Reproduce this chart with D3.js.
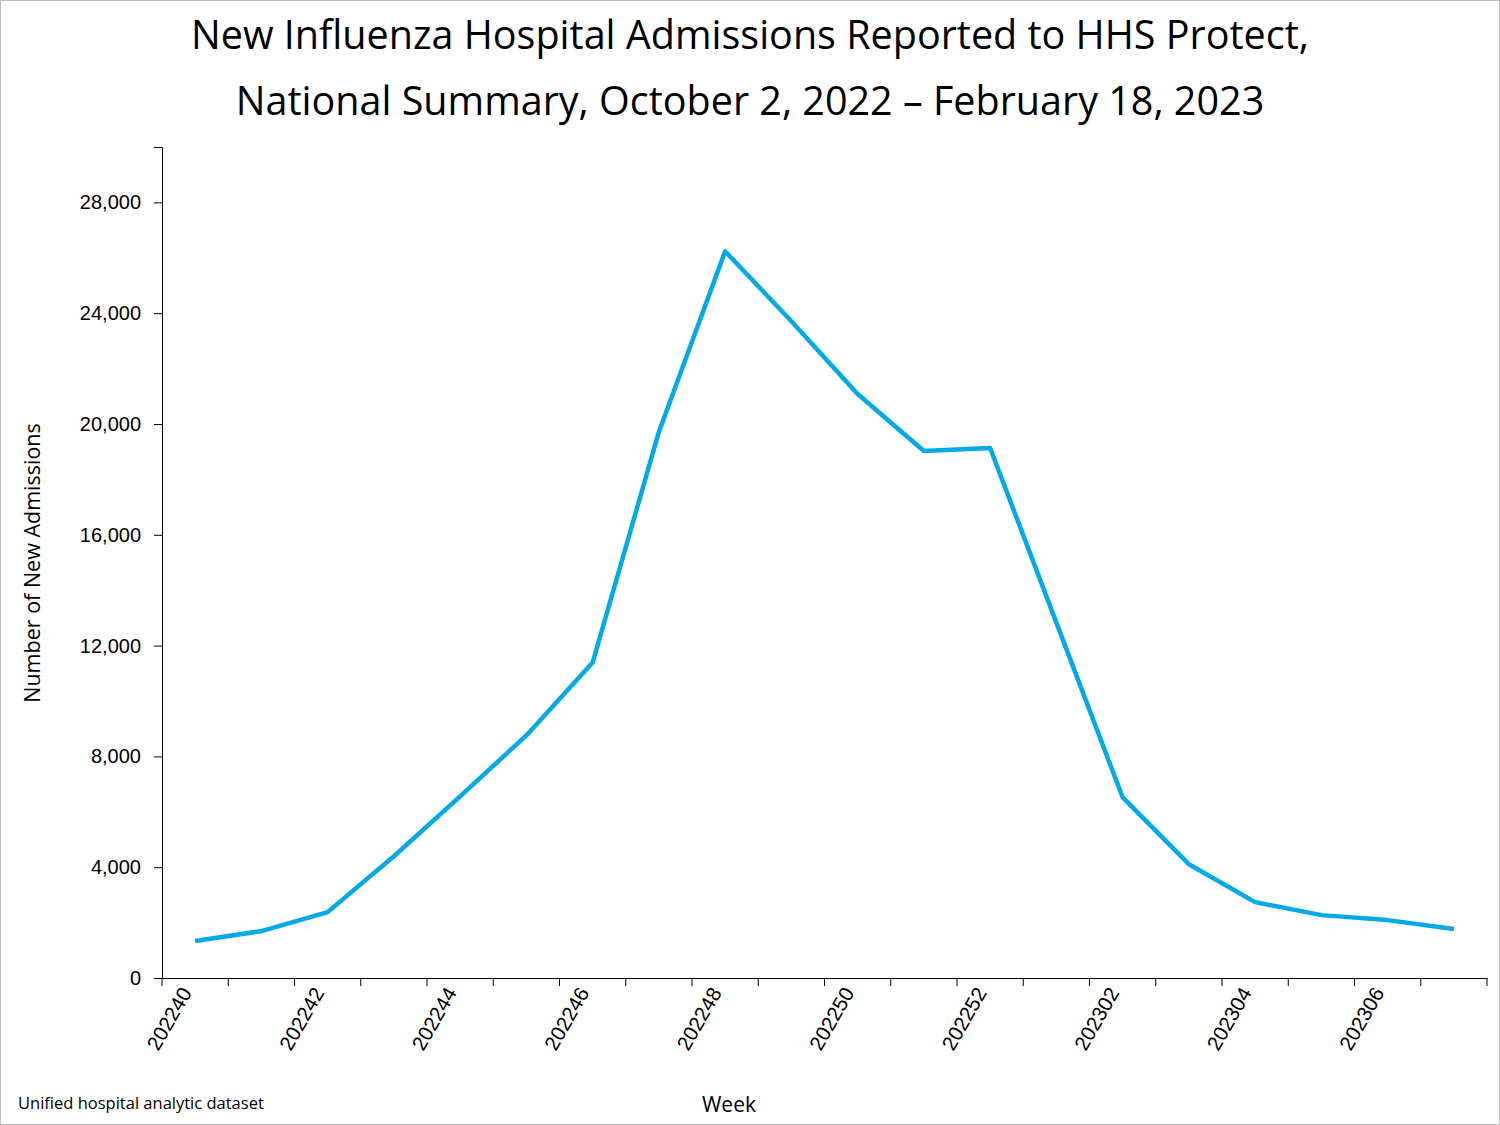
<!DOCTYPE html>
<html><head><meta charset="utf-8">
<script src="https://cdn.jsdelivr.net/npm/d3@7"></script>
<style>body{margin:0;background:#fff}svg{font-family:"Open Sans",sans-serif}</style>
</head><body><svg id="c" width="1500" height="1125"></svg>
<script>
const weeks = ["202240","202241","202242","202243","202244","202245","202246","202247","202248","202249","202250","202251","202252","202301","202302","202303","202304","202305","202306","202307"];
const admissions = [1333,1694,2378,4396,6559,8757,11387,19712,26234,23712,21081,19027,19135,12829,6523,4108,2739,2270,2090,1766];
const yTicks = [0,4000,8000,12000,16000,20000,24000,28000];

const svg = d3.select("#c");
svg.append("rect").attr("x",0.5).attr("y",0.5).attr("width",1499).attr("height",1124)
  .attr("fill","none").attr("stroke","#bbb");

const x = d3.scaleBand().domain(weeks).range([162, 1487]);
const y = d3.scaleLinear().domain([0, 30000]).range([978, 147]);

svg.append("g").attr("transform","translate(162,0)")
  .call(d3.axisLeft(y).tickValues(yTicks).tickFormat(d3.format(",")).tickSizeOuter(0).tickSize(8))
  .call(g => g.select(".domain").attr("stroke","#000"))
  .call(g => g.selectAll("text").attr("font-size",20).attr("fill","#000").attr("dx",-10));

const xg = svg.append("g").attr("transform","translate(0,978)")
  .call(d3.axisBottom(x).tickSizeOuter(0).tickSize(0).tickFormat((d,i) => i % 2 ? "" : d));
xg.select(".domain").attr("stroke","#000");
xg.selectAll("text").attr("font-size",20.5).attr("fill","#000")
  .attr("text-anchor","end").attr("transform","rotate(-60)").attr("dx","-14").attr("dy","2");
xg.selectAll(".sep").data(weeks.concat([null])).join("line")
  .attr("x1",(d,i)=>162 + i*x.step()).attr("x2",(d,i)=>162 + i*x.step())
  .attr("y1",0).attr("y2",8).attr("stroke","#000");

svg.append("path").datum(admissions)
  .attr("fill","none").attr("stroke","#00A9E8").attr("stroke-width",4.5).attr("stroke-linejoin","round")
  .attr("d", d3.line().x((d,i)=>x(weeks[i]) + x.bandwidth()/2).y(d=>y(d)));

svg.append("text").attr("x",750).attr("y",49).attr("text-anchor","middle").attr("font-size",39.5)
  .text("New Influenza Hospital Admissions Reported to HHS Protect,");
svg.append("text").attr("x",750).attr("y",115).attr("text-anchor","middle").attr("font-size",39.5)
  .text("National Summary, October 2, 2022 \u2013 February 18, 2023");
svg.append("text").attr("transform","translate(40,563) rotate(-90)").attr("text-anchor","middle")
  .attr("font-size",21.5).text("Number of New Admissions");
svg.append("text").attr("x",729).attr("y",1112).attr("text-anchor","middle").attr("font-size",21).text("Week");
svg.append("text").attr("x",18).attr("y",1109).attr("font-size",16.5).text("Unified hospital analytic dataset");
</script></body></html>
